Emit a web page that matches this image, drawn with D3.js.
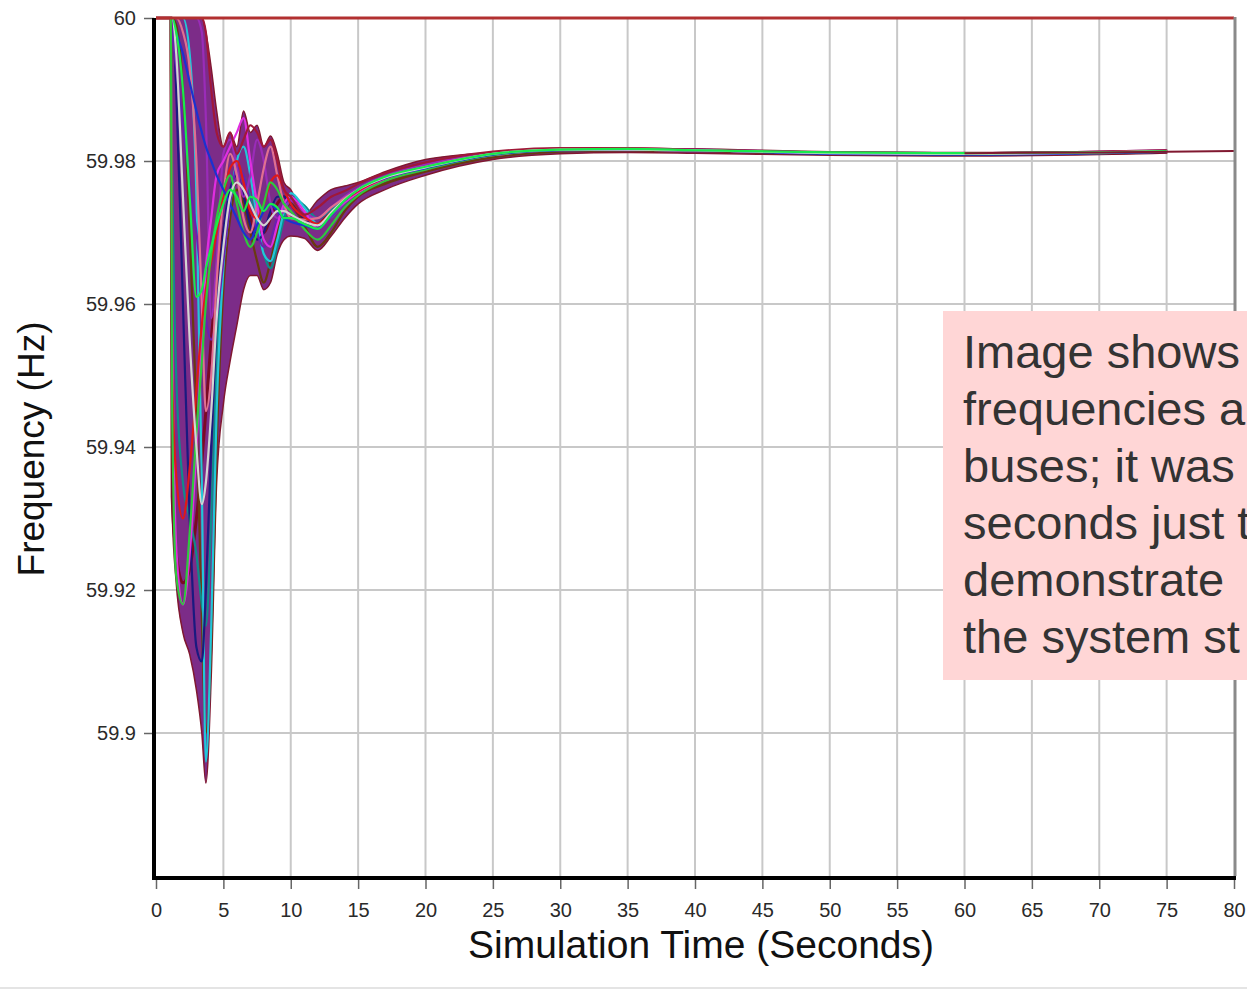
<!DOCTYPE html>
<html>
<head>
<meta charset="utf-8">
<script src="https://cdn.jsdelivr.net/npm/d3@7"></script>
<style>
  body { margin: 0; background: #fff; }
  svg { display: block; font-family: "Liberation Sans", Arial, sans-serif; }
</style>
</head>
<body>
<svg id="chart" width="1247" height="990"></svg>
<script>
(function() {
  'use strict';

  // sample times (s) shared by every bus trace
  var times = [0, 1.1, 1.2, 1.5, 2, 2.5, 3, 3.4, 3.7, 4.1, 4.5, 5, 5.5, 6,
    6.5, 7, 7.5, 8, 8.5, 9, 9.5, 10, 11, 12, 13, 14, 15, 17, 20,
    25, 30, 35, 40, 50, 60, 70, 75];

  // outer edges of the bundle of bus frequencies
  var bandHigh = [60, 60, 60, 60, 60, 60, 60, 60, 59.998, 59.993, 59.987, 59.982, 59.984, 59.982,
    59.987, 59.984, 59.985, 59.982, 59.9835, 59.981, 59.977, 59.976, 59.9725, 59.9745, 59.976, 59.9765, 59.977, 59.9785, 59.9802,
    59.9812, 59.9818, 59.9818, 59.9817, 59.9813, 59.9812, 59.9813, 59.9815];
  var bandLow = [60, 60, 59.931, 59.921, 59.914, 59.911, 59.906, 59.900, 59.893, 59.908, 59.935, 59.946, 59.952, 59.957,
    59.962, 59.964, 59.964, 59.962, 59.963, 59.967, 59.969, 59.9695, 59.9692, 59.9675, 59.9695, 59.972, 59.974, 59.976, 59.978,
    59.9802, 59.981, 59.9812, 59.9811, 59.9808, 59.9807, 59.9809, 59.9811];

  // individual bus traces (Hz)
  var busA = [60, 60, 59.933, 59.925, 59.921, 59.923, 59.930, 59.938, 59.945, 59.955, 59.963, 59.970, 59.975, 59.977,
    59.975, 59.972, 59.970, 59.970, 59.972, 59.974, 59.975, 59.974, 59.9718, 59.9712, 59.973, 59.9745, 59.9755, 59.9772, 59.9789,
    59.9808, 59.9815, 59.9816, 59.9815, 59.9811, 59.981, 59.9811, 59.9813];
  var busB = [60, 60, 59.950, 59.936, 59.930, 59.937, 59.948, 59.957, 59.962, 59.966, 59.970, 59.975, 59.979, 59.980,
    59.977, 59.973, 59.972, 59.974, 59.977, 59.978, 59.976, 59.974, 59.9722, 59.9712, 59.9728, 59.9745, 59.9758, 59.9776, 59.979,
    59.9809, 59.9815, 59.9816, 59.9815, 59.9811, 59.981, 59.9811, 59.9813];
  var busC = [60, 60, 60, 59.998, 59.990, 59.975, 59.961, 59.962, 59.965, 59.968, 59.971, 59.974, 59.976, 59.975,
    59.973, 59.975, 59.9745, 59.973, 59.974, 59.9735, 59.972, 59.972, 59.9712, 59.9705, 59.9725, 59.9745, 59.976, 59.9778, 59.9792,
    59.981, 59.9816, 59.9817, 59.9815, 59.9812, 59.9811, 59.9812, 59.9814];
  var busD = [60, 60, 60, 59.998, 59.995, 59.991, 59.987, 59.984, 59.982, 59.980, 59.978, 59.976, 59.974, 59.972,
    59.970, 59.969, 59.971, 59.973, 59.974, 59.973, 59.972, 59.9715, 59.971, 59.9705, 59.9725, 59.9745, 59.976, 59.9776, 59.979,
    59.9809, 59.9815, 59.9816, 59.9815, 59.981, 59.9809, 59.9811, 59.9813];
  var busE = [60, 60, 59.960, 59.926, 59.918, 59.925, 59.940, 59.955, 59.965, 59.972, 59.978, 59.980, 59.982, 59.984,
    59.986, 59.980, 59.974, 59.969, 59.968, 59.971, 59.974, 59.975, 59.973, 59.9705, 59.9725, 59.9742, 59.9756, 59.9774, 59.979,
    59.9808, 59.9815, 59.9816, 59.9815, 59.9811, 59.981, 59.9811, 59.9813];
  var busF = [60, 60, 60, 60, 60, 59.995, 59.975, 59.935, 59.896, 59.915, 59.945, 59.965, 59.974, 59.980,
    59.982, 59.978, 59.972, 59.967, 59.966, 59.969, 59.973, 59.9755, 59.9735, 59.9712, 59.9722, 59.9742, 59.9758, 59.9777, 59.9793,
    59.981, 59.9816, 59.9816, 59.9815, 59.9811, 59.981, 59.9812, 59.9814];
  var busG = [60, 60, 60, 60, 60, 60, 60, 59.998, 59.986, 59.958, 59.966, 59.981, 59.983, 59.979,
    59.975, 59.978, 59.983, 59.980, 59.974, 59.972, 59.973, 59.9745, 59.9728, 59.972, 59.9735, 59.975, 59.9762, 59.9779, 59.9795,
    59.9811, 59.9817, 59.9817, 59.9816, 59.9812, 59.9811, 59.9813, 59.9815];
  var busH = [60, 60, 60, 60, 60, 60, 60, 60, 59.998, 59.990, 59.984, 59.982, 59.984, 59.981,
    59.983, 59.985, 59.984, 59.982, 59.983, 59.980, 59.976, 59.975, 59.9725, 59.9735, 59.975, 59.9758, 59.9768, 59.9783, 59.9798,
    59.9813, 59.9818, 59.9818, 59.9816, 59.9812, 59.9811, 59.9813, 59.9815];
  var busI = [60, 60, 60, 59.999, 59.990, 59.970, 59.945, 59.916, 59.900, 59.912, 59.940, 59.962, 59.972, 59.976,
    59.974, 59.970, 59.966, 59.963, 59.966, 59.970, 59.973, 59.974, 59.971, 59.968, 59.970, 59.973, 59.975, 59.9768, 59.9785,
    59.9805, 59.9813, 59.9815, 59.9814, 59.981, 59.9809, 59.9811, 59.9813];
  var busJ = [60, 60, 60, 59.995, 59.975, 59.955, 59.940, 59.932, 59.935, 59.945, 59.958, 59.968, 59.975, 59.977,
    59.976, 59.974, 59.972, 59.971, 59.972, 59.973, 59.973, 59.9725, 59.9715, 59.971, 59.9728, 59.9746, 59.976, 59.9777, 59.9791,
    59.981, 59.9816, 59.9816, 59.9815, 59.9811, 59.981, 59.9812, 59.9814];
  var busK = [60, 60, 59.945, 59.922, 59.918, 59.928, 59.942, 59.952, 59.960, 59.967, 59.972, 59.976, 59.978, 59.974,
    59.970, 59.968, 59.970, 59.974, 59.977, 59.976, 59.974, 59.973, 59.9705, 59.969, 59.971, 59.9735, 59.9752, 59.9772, 59.9788,
    59.9808, 59.9815, 59.9816, 59.9815, 59.9811, 59.981, 59.9811, 59.9813];
  var busL = [60, 60, 60, 59.990, 59.960, 59.930, 59.912, 59.910, 59.920, 59.940, 59.958, 59.970, 59.976, 59.978,
    59.975, 59.971, 59.969, 59.970, 59.973, 59.975, 59.975, 59.974, 59.972, 59.9712, 59.9726, 59.9744, 59.9757, 59.9775, 59.979,
    59.981, 59.9815, 59.9816, 59.9815, 59.9811, 59.981, 59.9811, 59.9813];
  var busM = [60, 60, 59.980, 59.950, 59.935, 59.930, 59.925, 59.918, 59.915, 59.930, 59.952, 59.968, 59.975, 59.979,
    59.978, 59.975, 59.971, 59.967, 59.965, 59.968, 59.972, 59.975, 59.9738, 59.972, 59.9732, 59.9748, 59.976, 59.9778, 59.9793,
    59.9811, 59.9816, 59.9817, 59.9815, 59.9811, 59.981, 59.9812, 59.9814];
  var busN = [60, 60, 60, 60, 59.998, 59.993, 59.980, 59.960, 59.945, 59.950, 59.963, 59.975, 59.981, 59.978,
    59.972, 59.970, 59.974, 59.979, 59.982, 59.978, 59.974, 59.972, 59.9718, 59.972, 59.9735, 59.9748, 59.976, 59.9777, 59.9792,
    59.981, 59.9816, 59.9816, 59.9815, 59.9811, 59.981, 59.9812, 59.9814];
  var busO = [60, 60, 59.998, 59.993, 59.985, 59.977, 59.970, 59.963, 59.958, 59.955, 59.958, 59.966, 59.974, 59.979,
    59.978, 59.974, 59.970, 59.968, 59.969, 59.972, 59.974, 59.9745, 59.9725, 59.9708, 59.9722, 59.9742, 59.9758, 59.9776, 59.9791,
    59.9809, 59.9815, 59.9816, 59.9815, 59.9811, 59.981, 59.9812, 59.9814];

  var buses = [busA, busI, busM, busF, busL, busO, busG, busN, busE, busB, busH, busK, busD, busJ, busC];
  var busColors = ['#7a0a24', '#6a3a10', '#108a8a', '#22c6d8', '#1a1a80', '#6a20b0', '#9a2cb8', '#e07090',
    '#e02ee0', '#e01818', '#a01838', '#2ec83e', '#1a32d0', '#d4d4d4', '#18ea4c'];

  // swing bus held at 60 Hz, and the one trace recorded to the end
  var refTimes = [0, 80];
  var refFreq = [60, 60];
  var lastTimes = [60, 70, 75, 80];
  var lastFreq = [59.9811, 59.9812, 59.9813, 59.9814];

  var xTicks = [0, 5, 10, 15, 20, 25, 30, 35, 40, 45, 50, 55, 60, 65, 70, 75, 80];
  var yTicks = [59.9, 59.92, 59.94, 59.96, 59.98, 60];
  var yTickLabels = ['59.9', '59.92', '59.94', '59.96', '59.98', '60'];

  var noteLines = ['Image shows', 'frequencies a', 'buses; it was', 'seconds just t', 'demonstrate', 'the system st'];

  var left = 156, right = 1234, top = 18, bottom = 876;

  var svg = d3.select('#chart');

  var x = d3.scaleLinear().domain([0, 80]).range([left, right]);
  var y = d3.scaleLinear().domain([59.88, 60]).range([bottom, top]);

  svg.append('defs').append('clipPath')
    .attr('id', 'plot')
    .append('rect')
    .attr('x', left)
    .attr('y', top - 4)
    .attr('width', right - left)
    .attr('height', bottom - top + 4);

  // grid
  var grid = svg.append('g').attr('class', 'grid');
  grid.selectAll('line.vx')
    .data(xTicks.slice(1, -1))
    .enter().append('line')
    .attr('x1', function(d) { return x(d); })
    .attr('x2', function(d) { return x(d); })
    .attr('y1', top)
    .attr('y2', bottom)
    .style('stroke', '#c8c8c8')
    .style('stroke-width', '2px');
  grid.selectAll('line.hy')
    .data(yTicks.slice(0, -1))
    .enter().append('line')
    .attr('x1', left)
    .attr('x2', right)
    .attr('y1', function(d) { return y(d); })
    .attr('y2', function(d) { return y(d); })
    .style('stroke', '#c8c8c8')
    .style('stroke-width', '2px');

  var plot = svg.append('g').attr('clip-path', 'url(#plot)');

  var band = d3.area()
    .x(function(d, i) { return x(times[i]); })
    .y0(function(d, i) { return y(bandLow[i]); })
    .y1(function(d, i) { return y(bandHigh[i]); })
    .curve(d3.curveMonotoneX);

  plot.append('path')
    .attr('d', band(times))
    .style('fill', '#7c2c88')
    .style('stroke', '#801830')
    .style('stroke-width', '1.5px');

  var trace = d3.line()
    .x(function(d, i) { return x(times[i]); })
    .y(function(d) { return y(d); })
    .curve(d3.curveMonotoneX);

  plot.selectAll('path.bus')
    .data(buses)
    .enter().append('path')
    .attr('class', 'bus')
    .attr('d', trace)
    .style('fill', 'none')
    .style('stroke', function(d, i) { return busColors[i]; })
    .style('stroke-width', function(d, i) { return i === 0 ? '3px' : '2.2px'; });

  var simple = d3.line()
    .x(function(d) { return x(d[0]); })
    .y(function(d) { return y(d[1]); });

  plot.append('path')
    .attr('d', simple(d3.zip(lastTimes, lastFreq)))
    .style('fill', 'none')
    .style('stroke', '#801830')
    .style('stroke-width', '2px');

  plot.append('path')
    .attr('d', simple(d3.zip(refTimes, refFreq)))
    .style('fill', 'none')
    .style('stroke', '#b23030')
    .style('stroke-width', '3px');

  // axes
  var xAxis = svg.append('g')
    .attr('transform', 'translate(0,' + (bottom + 2) + ')');
  xAxis.call(d3.axisBottom(x).tickValues(d3.range(0, 81, 1)).tickSize(6).tickFormat(''));
  xAxis.call(d3.axisBottom(x).tickValues(xTicks).tickSize(11).tickPadding(14).tickFormat(d3.format('d')));
  xAxis.selectAll('.domain').remove();
  xAxis.selectAll('line').style('stroke', '#666').style('stroke-width', '1.5px');
  xAxis.selectAll('text')
    .style('font-size', '20px')
    .style('fill', '#2a2a2a');

  var yAxis = svg.append('g')
    .attr('transform', 'translate(' + (left - 2) + ',0)');
  yAxis.call(d3.axisLeft(y).tickValues(d3.range(59.885, 60, 0.005)).tickSize(6).tickFormat(''));
  yAxis.call(d3.axisLeft(y).tickValues(yTicks).tickSize(10).tickPadding(8)
    .tickFormat(function(d, i) { return yTickLabels[i]; }));
  yAxis.selectAll('.domain').remove();
  yAxis.selectAll('line').style('stroke', '#666').style('stroke-width', '1.5px');
  yAxis.selectAll('text')
    .style('font-size', '20px')
    .style('fill', '#2a2a2a');

  // frame: thick black axes, grey right edge
  svg.append('line')
    .attr('x1', left - 2).attr('x2', left - 2)
    .attr('y1', top).attr('y2', bottom + 4)
    .style('stroke', '#000').style('stroke-width', '4px');
  svg.append('line')
    .attr('x1', left - 4).attr('x2', right + 2)
    .attr('y1', bottom + 2).attr('y2', bottom + 2)
    .style('stroke', '#000').style('stroke-width', '4px');
  svg.append('line')
    .attr('x1', right + 1).attr('x2', right + 1)
    .attr('y1', top - 1).attr('y2', bottom)
    .style('stroke', '#8a8a8a').style('stroke-width', '3px');

  svg.append('text')
    .attr('x', 701)
    .attr('y', 958)
    .attr('text-anchor', 'middle')
    .style('font-size', '39px')
    .style('fill', '#111')
    .text('Simulation Time (Seconds)');

  svg.append('text')
    .attr('transform', 'translate(44,449) rotate(-90)')
    .attr('text-anchor', 'middle')
    .style('font-size', '37px')
    .style('fill', '#111')
    .text('Frequency (Hz)');

  // pasted note box, cut by the page edge as in the source
  svg.append('rect')
    .attr('x', 943)
    .attr('y', 311)
    .attr('width', 320)
    .attr('height', 369)
    .style('fill', '#ffd6d6');

  svg.append('g').selectAll('text')
    .data(noteLines)
    .enter().append('text')
    .attr('x', 963)
    .attr('y', function(d, i) { return 368 + i * 57; })
    .style('font-size', '47px')
    .style('fill', '#333')
    .text(function(d) { return d; });

  svg.append('line')
    .attr('x1', 0).attr('x2', 1247)
    .attr('y1', 988).attr('y2', 988)
    .style('stroke', '#e4e4e4').style('stroke-width', '2px');
})();
</script>
</body>
</html>
